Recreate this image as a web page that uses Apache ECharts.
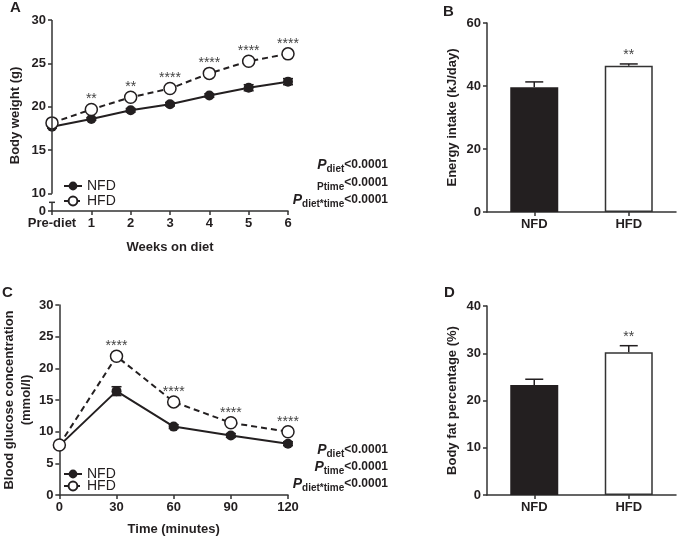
<!DOCTYPE html>
<html><head><meta charset="utf-8">
<script src="https://cdn.jsdelivr.net/npm/echarts@6/dist/echarts.min.js"></script>
<style>html,body{margin:0;padding:0;background:#fff}#c{width:677px;height:537px}</style>
</head><body><div id="c"></div>
<script>
// ---- data ----
const weekCats = ['Pre-diet','1','2','3','4','5','6'];
const bwNFD = [17.7,18.6,19.6,20.3,21.3,22.2,22.9];
const bwNFDerr = [0.15,0.15,0.2,0.2,0.2,0.35,0.35];
const bwHFD = [18.15,19.7,21.1,22.1,23.85,25.25,26.1];
const bwHFDerr = [0.2,0.2,0.2,0.2,0.2,0.2,0.2];
const bwStars = ['','**','**','****','****','****','****'];
const dietCats = ['NFD','HFD'];
const energy = [39.6,46.4];
const energyErr = [1.7,0.6];
const energyStars = ['','**'];
const gttTimes = [0,30,60,90,120];
const gttNFD = [7.8,16.4,10.8,9.4,8.1];
const gttNFDerr = [0.3,0.7,0.3,0.3,0.3];
const gttHFD = [7.9,21.9,14.7,11.4,10.0];
const gttHFDerr = [0.3,0.6,0.3,0.3,0.3];
const gttStars = ['','****','****','****','****'];
const bodyFat = [23.3,30.2];
const bodyFatErr = [1.2,1.4];
const bodyFatStars = ['','**'];
const yTicksA = [8,10,15,20,25,30];

// ---- styling ----
const FONT = 'Liberation Sans, Arial, sans-serif';
const INK = '#231f20';
const AX = '#333';
function axisBase(extra) {
  const base = {
    axisLine:{show:true, onZero:false, lineStyle:{color:AX, width:1.5}},
    axisTick:{show:true, length:4, lineStyle:{color:AX, width:1.5}},
    axisLabel:{fontFamily:FONT, fontSize:13, fontWeight:'bold', color:INK, margin:6},
    splitLine:{show:false},
    nameLocation:'middle',
    nameTextStyle:{fontFamily:FONT, fontSize:13, fontWeight:'bold', color:INK}
  };
  for (const k in extra) {
    if (base[k] && typeof base[k]==='object' && !Array.isArray(base[k]) && typeof extra[k]==='object' && !Array.isArray(extra[k])) {
      base[k] = Object.assign({}, base[k], extra[k]);
    } else base[k] = extra[k];
  }
  return base;
}

function errRender(stars, capHalf, both, starMode) {
  return function(params, api) {
    const x = api.value(0), lo = api.value(1), hi = api.value(2), m = api.value(3);
    const pLo = api.coord([x, lo]), pHi = api.coord([x, hi]), pM = api.coord([x, m]);
    const st = {stroke: INK, lineWidth: 1.5, fill:null};
    const ch = [
      {type:'line', shape:{x1:pLo[0], y1:pLo[1], x2:pHi[0], y2:pHi[1]}, style:st},
      {type:'line', shape:{x1:pHi[0]-capHalf, y1:pHi[1], x2:pHi[0]+capHalf, y2:pHi[1]}, style:st}
    ];
    if (both) ch.push({type:'line', shape:{x1:pLo[0]-capHalf, y1:pLo[1], x2:pLo[0]+capHalf, y2:pLo[1]}, style:st});
    const s = stars ? stars[params.dataIndex] : '';
    if (s) {
      const sy = starMode === 'bar' ? pHi[1] - 9 : pM[1] - 10;
      ch.push({type:'text', x:pM[0], y:sy, style:{text:s, fill:'#444', font:'14px ' + FONT, align:'center', verticalAlign:'middle', textAlign:'center', textVerticalAlign:'middle'}});
    }
    return {type:'group', children:ch};
  };
}

const lineNFD = (name, data, xi) => ({
  name, type:'line', xAxisIndex:xi, yAxisIndex:xi, data, z:3,
  symbol:'circle', symbolSize:10, showSymbol:true,
  itemStyle:{color:INK}, lineStyle:{color:INK, width:2}, emphasis:{disabled:true}
});
const lineHFD = (name, data, xi) => ({
  name, type:'line', xAxisIndex:xi, yAxisIndex:xi, data, z:4,
  symbol:'circle', symbolSize:12, showSymbol:true,
  itemStyle:{color:'#fff', borderColor:INK, borderWidth:1.5},
  lineStyle:{color:INK, width:2, type:[6,4]}, emphasis:{disabled:true}
});

const catTick = {show:true, length:4, alignWithLabel:true, interval:0, lineStyle:{color:AX, width:1.5}};
const catLabel = {fontFamily:FONT, fontSize:13, fontWeight:'bold', color:INK, margin:6, interval:0};

const chart = echarts.init(document.getElementById('c'));
const option = {
  animation:false,
  backgroundColor:'#fff',
  textStyle:{fontFamily:FONT},
  grid:[
    {left:52, top:20, width:236, height:191},
    {left:487, top:23, width:189, height:189},
    {left:52, top:305, width:236, height:190},
    {left:487, top:306, width:189, height:189}
  ],
  legend:[
    {data:['NFD','HFD'], orient:'vertical', left:58, top:174, itemWidth:18, itemHeight:11, itemGap:1,
     textStyle:{fontFamily:FONT, fontSize:14, color:INK}, selectedMode:false},
    {data:['NFD','HFD'], orient:'vertical', left:58, top:462, itemWidth:18, itemHeight:11, itemGap:-2,
     textStyle:{fontFamily:FONT, fontSize:14, color:INK}, selectedMode:false}
  ],
  xAxis:[
    axisBase({gridIndex:0, type:'category', data:weekCats, boundaryGap:false, name:'Weeks on diet', nameGap:30,
      axisTick:catTick, axisLabel:catLabel}),
    axisBase({gridIndex:1, type:'category', data:dietCats, axisTick:catTick, axisLabel:catLabel}),
    axisBase({gridIndex:2, type:'value', min:0, max:120, interval:30, name:'Time (minutes)', nameGap:28}),
    axisBase({gridIndex:3, type:'category', data:dietCats, axisTick:catTick, axisLabel:catLabel})
  ],
  yAxis:[
    axisBase({gridIndex:0, type:'value', min:8, max:30, name:'Body weight (g)', nameGap:30,
      axisLine:{show:false},
      axisTick:{show:true, length:4, customValues:yTicksA, lineStyle:{color:AX, width:1.5}},
      axisLabel:{fontFamily:FONT, fontSize:13, fontWeight:'bold', color:INK, margin:6, customValues:yTicksA,
        formatter: v => (v === 8 ? '0' : String(v))}}),
    axisBase({gridIndex:1, type:'value', min:0, max:60, interval:20, name:'Energy intake (kJ/day)', nameGap:28}),
    axisBase({gridIndex:2, type:'value', min:0, max:30, interval:5, name:'Blood glucose concentration\n(mmol/l)', nameGap:20,
      nameTextStyle:{fontFamily:FONT, fontSize:13, fontWeight:'bold', color:INK, lineHeight:17}}),
    axisBase({gridIndex:3, type:'value', min:0, max:40, interval:10, name:'Body fat percentage (%)', nameGap:28})
  ],
  series:[
    // Panel A
    {type:'custom', xAxisIndex:0, yAxisIndex:0, z:2, clip:false,
     data: bwNFD.map((v,i)=>[i, v-bwNFDerr[i], v+bwNFDerr[i], v]), encode:{x:0, y:[1,2]},
     renderItem: errRender(null, 5, true, 'line')},
    {type:'custom', xAxisIndex:0, yAxisIndex:0, z:2, clip:false,
     data: bwHFD.map((v,i)=>[i, v-bwHFDerr[i], v+bwHFDerr[i], v]), encode:{x:0, y:[1,2]},
     renderItem: errRender(bwStars, 5, true, 'line')},
    lineNFD('NFD', bwNFD, 0),
    lineHFD('HFD', bwHFD, 0),
    // Panel B
    {type:'bar', xAxisIndex:1, yAxisIndex:1, barWidth:48, z:3,
     data: energy.map((v,i)=>({value:v, itemStyle: i===0 ? {color:INK} : {color:'#fff', borderColor:'#333', borderWidth:1.5}})),
     emphasis:{disabled:true}},
    {type:'custom', xAxisIndex:1, yAxisIndex:1, z:2, clip:false,
     data: energy.map((v,i)=>[i, v, v+energyErr[i], v]), encode:{x:0, y:[1,2]},
     renderItem: errRender(energyStars, 9, false, 'bar')},
    // Panel C
    {type:'custom', xAxisIndex:2, yAxisIndex:2, z:2, clip:false,
     data: gttNFD.map((v,i)=>[gttTimes[i], v-gttNFDerr[i], v+gttNFDerr[i], v]), encode:{x:0, y:[1,2]},
     renderItem: errRender(null, 5, true, 'line')},
    {type:'custom', xAxisIndex:2, yAxisIndex:2, z:2, clip:false,
     data: gttHFD.map((v,i)=>[gttTimes[i], v-gttHFDerr[i], v+gttHFDerr[i], v]), encode:{x:0, y:[1,2]},
     renderItem: errRender(gttStars, 5, true, 'line')},
    lineNFD('NFD', gttTimes.map((t,i)=>[t, gttNFD[i]]), 2),
    lineHFD('HFD', gttTimes.map((t,i)=>[t, gttHFD[i]]), 2),
    // Panel D
    {type:'bar', xAxisIndex:3, yAxisIndex:3, barWidth:48, z:3,
     data: bodyFat.map((v,i)=>({value:v, itemStyle: i===0 ? {color:INK} : {color:'#fff', borderColor:'#333', borderWidth:1.5}})),
     emphasis:{disabled:true}},
    {type:'custom', xAxisIndex:3, yAxisIndex:3, z:2, clip:false,
     data: bodyFat.map((v,i)=>[i, v, v+bodyFatErr[i], v]), encode:{x:0, y:[1,2]},
     renderItem: errRender(bodyFatStars, 9, false, 'bar')}
  ]
};
chart.setOption(option);

// ---- annotations and broken axis for panel A ----
const rich = {
  p:{fill:INK, fontFamily:FONT, fontSize:14, fontWeight:'bold', fontStyle:'italic', lineHeight:18},
  s:{fill:INK, fontFamily:FONT, fontSize:10, fontWeight:'bold', lineHeight:18, verticalAlign:'bottom'},
  v:{fill:INK, fontFamily:FONT, fontSize:12, fontWeight:'bold', lineHeight:18}
};
function ptext(x, y, str) {
  return {type:'text', x, y, z:10, style:{text:str, rich, align:'right', verticalAlign:'middle', textAlign:'right', textVerticalAlign:'middle'}};
}
function letter(x, y, t) {
  return {type:'text', x, y, z:10, style:{text:t, fill:INK, font:'bold 15px ' + FONT, align:'left', verticalAlign:'middle'}};
}
const pA = (v) => chart.convertToPixel({gridIndex:0}, [0, v]);
const [xA0, y30] = pA(30);
const y10 = pA(10)[1], y9 = pA(9)[1], y8 = pA(8)[1];
const axStyle = {stroke:AX, lineWidth:1.5};
chart.setOption({graphic:[
  {type:'line', z:10, shape:{x1:xA0, y1:y30, x2:xA0, y2:y10}, style:axStyle},
  {type:'line', z:10, shape:{x1:xA0, y1:y9, x2:xA0, y2:y8}, style:axStyle},
  {type:'line', z:10, shape:{x1:xA0-3, y1:y9, x2:xA0+3, y2:y9}, style:axStyle},
  ptext(388, 165, '{p|P}{s|diet}{v|<0.0001}'),
  ptext(388, 183, '{s|Ptime}{v|<0.0001}'),
  ptext(388, 200, '{p|P}{s|diet*time}{v|<0.0001}'),
  ptext(388, 450, '{p|P}{s|diet}{v|<0.0001}'),
  ptext(388, 467, '{p|P}{s|time}{v|<0.0001}'),
  ptext(388, 484, '{p|P}{s|diet*time}{v|<0.0001}'),
  letter(10, 8, 'A'),
  letter(443, 12, 'B'),
  letter(2, 293, 'C'),
  letter(444, 293, 'D')
]});
</script>
</body></html>
